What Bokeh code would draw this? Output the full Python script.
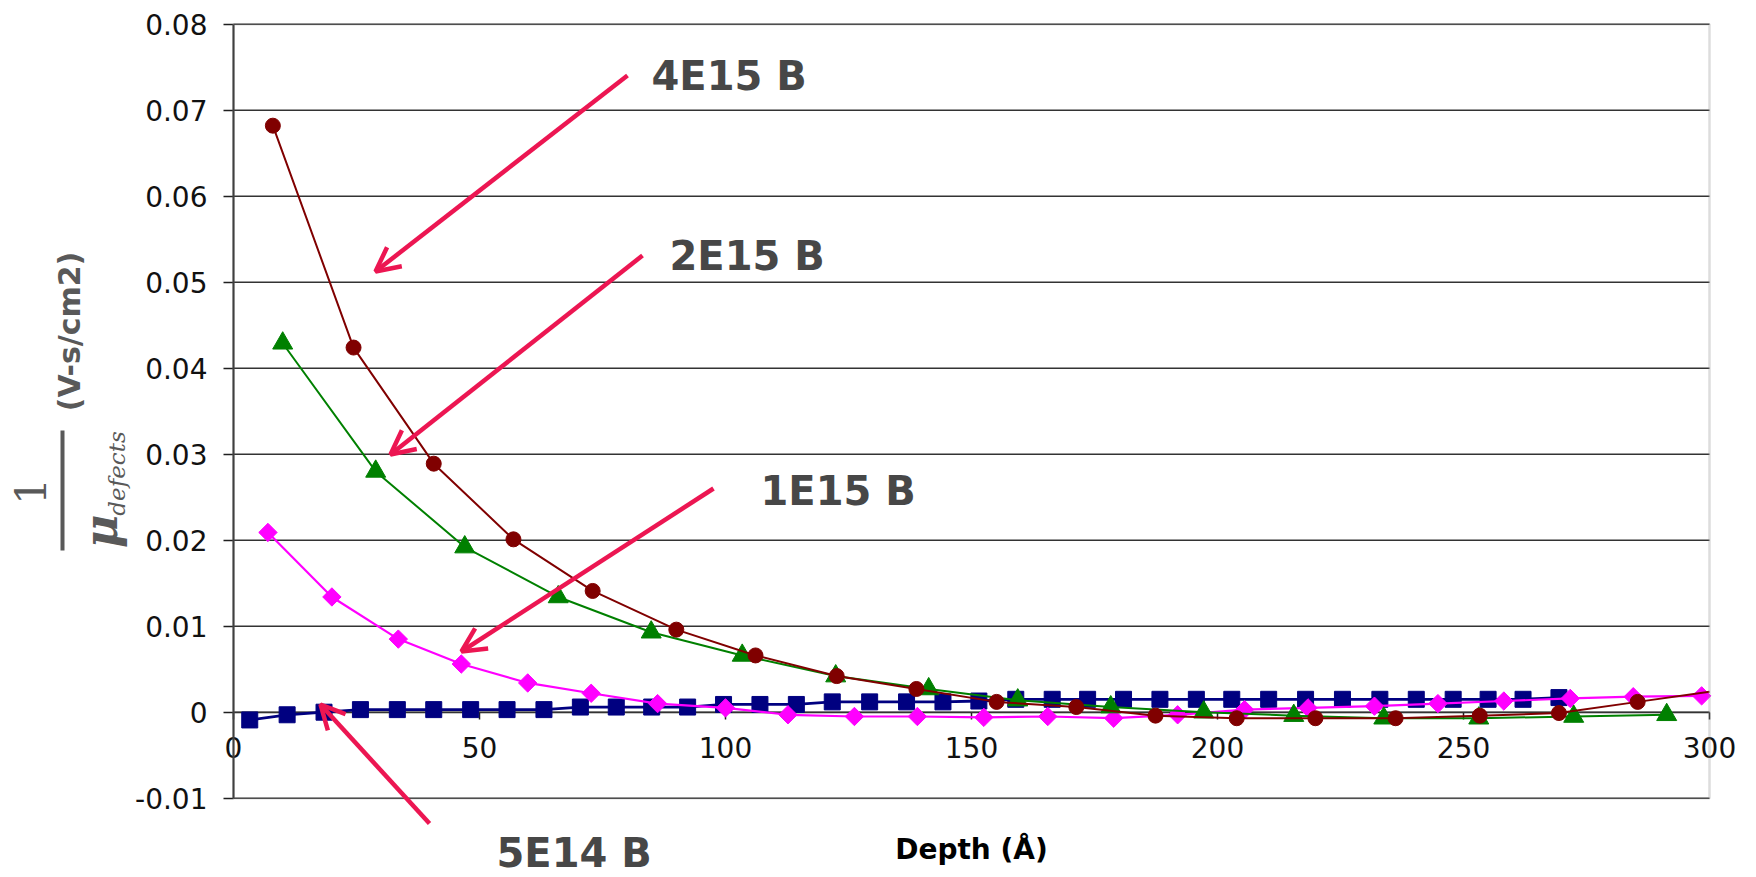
from math import pi
from bokeh.plotting import figure
from bokeh.models import Range1d, LinearAxis, FixedTicker, Label, Arrow, OpenHead, BoxAnnotation
from bokeh.embed import file_html
from bokeh.resources import INLINE

# ---------------- data ----------------
x_ticks = [0, 50, 100, 150, 200, 250, 300]
x_tick_labels = ["0", "50", "100", "150", "200", "250", "300"]
y_ticks = [-0.01, 0.0, 0.01, 0.02, 0.03, 0.04, 0.05, 0.06, 0.07, 0.08]
y_tick_labels = ["-0.01", "0", "0.01", "0.02", "0.03", "0.04", "0.05", "0.06", "0.07", "0.08"]

series_names = ["5E14 B", "1E15 B", "2E15 B", "4E15 B"]

depth_5e14 = [3.3, 10.9, 18.4, 25.8, 33.3, 40.7, 48.2, 55.6, 63.1, 70.5,
              77.8, 85.0, 92.3, 99.6, 107.0, 114.4, 121.7, 129.3, 136.8, 144.2,
              151.5, 159.0, 166.4, 173.6, 180.9, 188.3, 195.7, 202.9, 210.4, 217.9,
              225.4, 233.0, 240.4, 247.9, 255.0, 262.1, 269.4]
inv_mu_5e14 = [-0.0009, -0.0003, 0.0000, 0.0003, 0.0003, 0.0003, 0.0003, 0.0003, 0.0003, 0.0006,
               0.0006, 0.0006, 0.0006, 0.0009, 0.0009, 0.0009, 0.0012, 0.0012, 0.0012, 0.0012,
               0.0013, 0.0015, 0.0015, 0.0015, 0.0015, 0.0015, 0.0015, 0.0015, 0.0015, 0.0015,
               0.0015, 0.0015, 0.0015, 0.0015, 0.0015, 0.0015, 0.0017]

depth_1e15 = [7.0, 20.0, 33.5, 46.3, 59.8, 72.7, 86.2, 100.0, 112.7, 126.2, 139.0, 152.5,
              165.5, 178.9, 191.9, 205.5, 218.4, 231.9, 244.8, 258.2, 271.7, 284.5, 298.4]
inv_mu_1e15 = [0.0209, 0.0134, 0.0085, 0.0056, 0.0034, 0.0022, 0.0010, 0.0005, -0.0003, -0.0005,
               -0.0005, -0.0006, -0.0005, -0.0007, -0.0003, 0.0003, 0.0005, 0.0007, 0.0010, 0.0013,
               0.0016, 0.0018, 0.0019]

depth_2e15 = [10.0, 28.9, 47.0, 66.0, 84.9, 103.4, 122.4, 141.3, 159.4, 178.3, 197.2, 215.5,
              233.8, 253.1, 272.4, 291.3]
inv_mu_2e15 = [0.0429, 0.0280, 0.0192, 0.0134, 0.0093, 0.0066, 0.0042, 0.0027, 0.0014, 0.0006,
               0.0000, -0.0004, -0.0007, -0.0007, -0.0005, -0.0003]

depth_4e15 = [8.0, 24.4, 40.7, 56.9, 73.0, 90.0, 106.1, 122.6, 138.8, 155.1, 171.3, 187.4,
              203.9, 219.9, 236.2, 253.3, 269.4, 285.4, 301.5]
inv_mu_4e15 = [0.0682, 0.0424, 0.0289, 0.0201, 0.0141, 0.0096, 0.0066, 0.0042, 0.0027, 0.0012,
               0.0006, -0.0004, -0.0007, -0.0007, -0.0007, -0.0004, -0.0001, 0.0012, 0.0025]

# ---------------- layout (canvas pixels) ----------------
W, H = 1756, 877
PAGE_MARGIN = 0                            # Bokeh's page template removes the body margin
plot_left, plot_right = 233.0, 1709.0      # where x = 0 and x = 300 sit on the canvas
plot_top, plot_bottom = 23.7, 797.7        # where y = 0.08 and y = -0.01 sit on the canvas
x_lo, x_hi = x_ticks[0], x_ticks[-1]
y_lo, y_hi = y_ticks[0], y_ticks[-1]
sx = (plot_right - plot_left) / (x_hi - x_lo)
sy = (plot_bottom - plot_top) / (y_hi - y_lo)


def dx(px):  # page pixel -> data x
    return x_lo + (px - PAGE_MARGIN - plot_left) / sx


def dy(py):  # page pixel -> data y
    return y_hi - (py - PAGE_MARGIN - plot_top) / sy


p = figure(width=W, height=H, output_backend="svg", toolbar_location=None, title=None,
           x_range=Range1d(x_lo - plot_left / sx, x_hi + (W - plot_right) / sx),
           y_range=Range1d(y_lo - (H - plot_bottom) / sy, y_hi + plot_top / sy),
           x_axis_location=None, y_axis_location=None,
           min_border=0, min_border_left=0, min_border_right=0,
           min_border_top=0, min_border_bottom=0,
           background_fill_color="white", border_fill_color="white")
p.outline_line_color = None
p.grid.visible = False

# horizontal grid lines at the y ticks, spanning the plot area
p.segment(x0=[x_lo] * len(y_ticks), y0=y_ticks, x1=[x_hi] * len(y_ticks), y1=y_ticks,
          line_color="#333333", line_width=1.6)

# y axis (left) at x = 0
yaxis = LinearAxis(fixed_location=x_lo, bounds=(y_lo, y_hi), ticker=FixedTicker(ticks=y_ticks),
                   major_label_overrides=dict(zip(y_ticks, y_tick_labels)),
                   axis_line_color="#1f1f1f", axis_line_width=2,
                   major_tick_out=10, major_tick_in=0,
                   major_tick_line_color="#1f1f1f", major_tick_line_width=1.5,
                   minor_tick_line_color=None,
                   major_label_text_font="DejaVu Sans", major_label_text_font_size="28px",
                   major_label_text_color="#111111", major_label_standoff=16)
p.add_layout(yaxis, "left")

# x axis crossing at y = 0
xaxis = LinearAxis(fixed_location=0, bounds=(x_lo, x_hi), ticker=FixedTicker(ticks=x_ticks),
                   major_label_overrides=dict(zip(x_ticks, x_tick_labels)),
                   axis_line_color="#1f1f1f", axis_line_width=1.6,
                   major_tick_out=7, major_tick_in=0,
                   major_tick_line_color="#1f1f1f", major_tick_line_width=1.5,
                   minor_tick_line_color=None,
                   major_label_text_font="DejaVu Sans", major_label_text_font_size="28px",
                   major_label_text_color="#111111", major_label_standoff=18)
xaxis.level = "underlay"
p.add_layout(xaxis, "below")

# plot-area border (grey)
p.add_layout(BoxAnnotation(left=x_lo, right=x_hi, bottom=y_lo, top=y_hi,
                           fill_alpha=0, line_color="#8e8e8e", line_width=2.5))

# ---------------- series ----------------
navy, magenta, green, maroon = "#000080", "#FF00FF", "#008000", "#800000"

p.line(depth_5e14, inv_mu_5e14, line_color=navy, line_width=2.8)
p.scatter(depth_5e14, inv_mu_5e14, marker="square", size=16, fill_color=navy, line_color=navy)

p.line(depth_1e15, inv_mu_1e15, line_color=magenta, line_width=2.2)
p.scatter(depth_1e15, inv_mu_1e15, marker="square", angle=pi / 4, size=13,
          fill_color=magenta, line_color=magenta)

p.line(depth_2e15, inv_mu_2e15, line_color=green, line_width=2)
p.scatter(depth_2e15, inv_mu_2e15, marker="triangle", size=20, fill_color=green, line_color=green)

# the last maroon point lies just past the axis end; draw only up to the plot edge
d4 = [d for d in depth_4e15 if d <= x_hi]
v4 = inv_mu_4e15[:len(d4)]
last_d, last_v = depth_4e15[len(d4)], inv_mu_4e15[len(d4)]
edge_v = v4[-1] + (last_v - v4[-1]) * (x_hi - d4[-1]) / (last_d - d4[-1])
p.line(d4 + [x_hi], v4 + [edge_v], line_color=maroon, line_width=2)
p.scatter(d4, v4, marker="circle", size=15, fill_color=maroon, line_color=maroon)

# ---------------- annotations (page pixel positions) ----------------
arrow_color = "#EC1652"
ann_color = "#474747"

# left edge / vertical centre of each label
label_px = {"4E15 B": (651, 75), "2E15 B": (669, 255),
            "1E15 B": (760, 490), "5E14 B": (496, 852)}
arrow_px = {"4E15 B": (627, 75, 375, 271),
            "2E15 B": (642, 255, 390, 454),
            "1E15 B": (713, 488, 461, 651),
            "5E14 B": (429, 823, 320, 704)}

for name in series_names:
    lx, ly = label_px[name]
    p.add_layout(Label(x=dx(lx), y=dy(ly), text=name, text_font="DejaVu Sans",
                       text_font_style="bold", text_font_size="40px", text_color=ann_color,
                       text_align="left", text_baseline="middle"))
    xs, ys, xe, ye = arrow_px[name]
    p.add_layout(Arrow(x_start=dx(xs), y_start=dy(ys), x_end=dx(xe), y_end=dy(ye),
                       line_color=arrow_color, line_width=4.5,
                       end=OpenHead(size=24, line_color=arrow_color, line_width=4.5)))

# x axis title
p.add_layout(Label(x=dx(971), y=dy(849), text="Depth (Å)", text_font="DejaVu Sans",
                   text_font_style="bold", text_font_size="28px", text_color="#000000",
                   text_align="center", text_baseline="middle"))

# y axis title: 1 / mu_defects (V-s/cm2)
ylab_color = "#595959"
p.add_layout(Label(x=dx(69), y=dy(331), text="(V-s/cm2)", angle=pi / 2,
                   text_font="DejaVu Sans", text_font_style="bold", text_font_size="30px",
                   text_color=ylab_color, text_align="center", text_baseline="middle"))
p.add_layout(Label(x=dx(30), y=dy(491), text="1", angle=pi / 2,
                   text_font="DejaVu Serif", text_font_size="42px",
                   text_color=ylab_color, text_align="center", text_baseline="middle"))
p.add_layout(Arrow(x_start=dx(62), y_start=dy(430), x_end=dx(62), y_end=dy(550),
                   start=None, end=None, line_color=ylab_color, line_width=4))
p.add_layout(Label(x=dx(100), y=dy(531), text="μ", angle=pi / 2,
                   text_font="DejaVu Serif", text_font_style="bold italic", text_font_size="46px",
                   text_color=ylab_color, text_align="center", text_baseline="middle"))
p.add_layout(Label(x=dx(116), y=dy(473), text="defects", angle=pi / 2,
                   text_font="DejaVu Serif", text_font_style="italic", text_font_size="23px",
                   text_color=ylab_color, text_align="center", text_baseline="middle"))

open("out.html", "w").write(file_html(p, INLINE))
